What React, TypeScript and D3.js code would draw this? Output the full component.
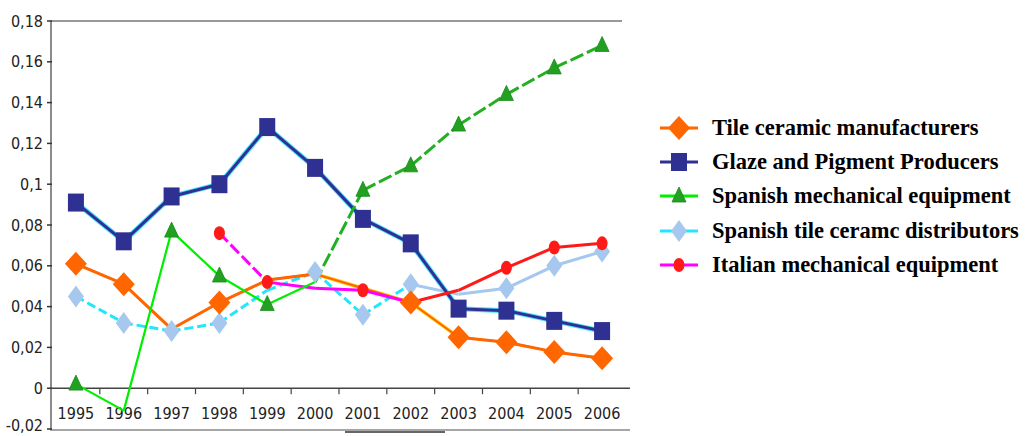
import React from "react";
import * as d3 from "d3";

const years = ["1995","1996","1997","1998","1999","2000","2001","2002","2003","2004","2005","2006"];
const yTickValues = [-0.02, 0, 0.02, 0.04, 0.06, 0.08, 0.1, 0.12, 0.14, 0.16, 0.18];
const yTickLabels = ["-0,02","0","0,02","0,04","0,06","0,08","0,1","0,12","0,14","0,16","0,18"];

const tileManufacturers = [0.061, 0.051, 0.029, 0.042, 0.053, 0.056, 0.049, 0.042, 0.025, 0.0225, 0.0178, 0.0147];
const tileMarkers = [1,1,0,1,0,0,0,1,1,1,1,1];
const glazeProducers = [0.091, 0.072, 0.094, 0.100, 0.128, 0.108, 0.083, 0.071, 0.039, 0.038, 0.033, 0.028];
const glazeMarkers = [1,1,1,1,1,1,1,1,1,1,1,1];
const spanishMech = [0.002, -0.011, 0.077, 0.055, 0.041, 0.052, 0.097, 0.109, 0.129, 0.144, 0.157, 0.168];
const spanishMechMarkers = [1,0,1,1,1,0,1,1,1,1,1,1];
const spanishDistributors = [0.045, 0.032, 0.028, 0.032, 0.048, 0.057, 0.036, 0.051, 0.046, 0.049, 0.060, 0.067];
const spanishDistMarkers = [1,1,1,1,0,1,1,1,0,1,1,1];
const italianMech: (number | null)[] = [null, null, null, 0.076, 0.052, 0.049, 0.048, 0.042, 0.048, 0.059, 0.069, 0.071];
const italianMarkers = [0,0,0,1,1,0,1,0,0,1,1,1];

const seriesNames = [
  "Tile ceramic manufacturers",
  "Glaze and Pigment Producers",
  "Spanish mechanical equipment",
  "Spanish tile ceramc distributors",
  "Italian mechanical equipment",
];

const W = 1025, H = 436;
const x = d3.scalePoint<string>().domain(years).range([52, 626]).padding(0.5);
const y = d3.scaleLinear().domain([-0.02, 0.18]).range([429, 21]);

const axisFont = "'Liberation Sans Narrow', 'Arial Narrow', 'DejaVu Sans Condensed', Arial, sans-serif";

type Shape = "diamond" | "square" | "triangle" | "thinDiamond" | "circle";

function Marker({ shape, cx, cy, fill }: { shape: Shape; cx: number; cy: number; fill: string }) {
  if (shape === "diamond") {
    const w = 11, h = 12;
    return <path d={`M${cx},${cy - h}L${cx + w},${cy}L${cx},${cy + h}L${cx - w},${cy}Z`} fill={fill} />;
  }
  if (shape === "thinDiamond") {
    const w = 8, h = 11;
    return <path d={`M${cx},${cy - h}L${cx + w},${cy}L${cx},${cy + h}L${cx - w},${cy}Z`} fill={fill} />;
  }
  if (shape === "square") {
    return <rect x={cx - 8} y={cy - 9} width={16} height={18} fill={fill} />;
  }
  if (shape === "triangle") {
    return <path d={`M${cx},${cy - 9}L${cx + 7},${cy + 6}L${cx - 7},${cy + 6}Z`} fill={fill} stroke="#1a8a1a" strokeWidth={0.8} />;
  }
  return <ellipse cx={cx} cy={cy} rx={5.5} ry={7} fill={fill} />;
}

type SegStyle = { color: string; width: number; dash?: string };

function SeriesLines({ values, segStyle }: { values: (number | null)[]; segStyle: (i: number) => SegStyle }) {
  const segs: JSX.Element[] = [];
  for (let i = 0; i < values.length - 1; i++) {
    const a = values[i], b = values[i + 1];
    if (a == null || b == null) continue;
    const s = segStyle(i);
    const line = d3.line<[number, number]>()([[x(years[i])!, y(a)], [x(years[i + 1])!, y(b)]]) || "";
    segs.push(<path key={i} d={line} stroke={s.color} strokeWidth={s.width} strokeDasharray={s.dash} fill="none" />);
  }
  return <g>{segs}</g>;
}

function SeriesMarkers({ values, mask, shape, fill }: { values: (number | null)[]; mask: number[]; shape: Shape; fill: string }) {
  return (
    <g>
      {values.map((v, i) =>
        v == null || !mask[i] ? null : <Marker key={i} shape={shape} cx={x(years[i])!} cy={y(v)} fill={fill} />
      )}
    </g>
  );
}

export default function App() {
  const legendRows = [
    { name: seriesNames[0], line: "#ff6600", shape: "diamond" as Shape, fill: "#ff6600" },
    { name: seriesNames[1], line: "#2e3192", shape: "square" as Shape, fill: "#2e3192" },
    { name: seriesNames[2], line: "#00ee00", shape: "triangle" as Shape, fill: "#22a022" },
    { name: seriesNames[3], line: "#22e5ff", shape: "thinDiamond" as Shape, fill: "#a6c8ee" },
    { name: seriesNames[4], line: "#ff00ff", shape: "circle" as Shape, fill: "#ff1a1a" },
  ];
  const legendY = [128, 162, 196, 231, 265];

  return (
    <svg width={W} height={H} style={{ position: "absolute", left: 0, top: 0, background: "#fff" }}>
      {/* frame */}
      <line x1={51} y1={21} x2={622} y2={21} stroke="#777" strokeWidth={1.5} />
      <line x1={51} y1={21} x2={51} y2={430} stroke="#666" strokeWidth={1.5} />
      <line x1={50} y1={430} x2={630} y2={430} stroke="#888" strokeWidth={1.5} />
      <line x1={345} y1={432} x2={445} y2={432} stroke="#333" strokeWidth={1.5} />
      {/* y ticks */}
      {yTickValues.map((v, i) => (
        <g key={i}>
          <line x1={47} x2={52} y1={y(v)} y2={y(v)} stroke="#333" strokeWidth={1.5} />
          <text x={43} y={Math.min(y(v), 425)} dy="0.35em" textAnchor="end" fontFamily={axisFont} fontSize={16} fill="#222">
            {yTickLabels[i]}
          </text>
        </g>
      ))}
      {/* x axis at zero */}
      <line x1={51} y1={y(0)} x2={630} y2={y(0)} stroke="#444" strokeWidth={1.5} />
      {years.map((yr, i) => (
        <g key={yr}>
          {i > 0 && (
            <line x1={x(yr)! - x.step() / 2} x2={x(yr)! - x.step() / 2} y1={y(0)} y2={y(0) + 6} stroke="#444" strokeWidth={1.2} />
          )}
          <text x={x(yr)!} y={413} dy="0.35em" textAnchor="middle" fontFamily={axisFont} fontSize={16} fill="#222">
            {yr}
          </text>
        </g>
      ))}

      {/* lines */}
      <SeriesLines values={spanishDistributors} segStyle={(i) => (i < 7 ? { color: "#22e5ff", width: 3, dash: "9,4" } : { color: "#a6c8ee", width: 3 })} />
      <SeriesLines values={glazeProducers} segStyle={() => ({ color: "#45e0ff", width: 5 })} />
      <SeriesLines values={glazeProducers} segStyle={() => ({ color: "#2e3192", width: 3 })} />
      <SeriesLines values={tileManufacturers} segStyle={(i) => (i >= 5 && i <= 7 ? { color: "#ffcc00", width: 3.5 } : { color: "#ff6600", width: 3 })} />
      <SeriesLines values={tileManufacturers} segStyle={() => ({ color: "#ff6600", width: 2 })} />
      <SeriesLines values={italianMech} segStyle={(i) => (i < 7 ? { color: "#ff00ff", width: 3, dash: i === 3 ? "12,4" : undefined } : { color: "#ff1a1a", width: 3 })} />
      <SeriesLines values={spanishMech} segStyle={(i) => (i < 5 ? { color: "#00ee00", width: 2.2 } : { color: "#22b022", width: 3, dash: "14,4" })} />

      {/* markers */}
      <SeriesMarkers values={spanishDistributors} mask={spanishDistMarkers} shape="thinDiamond" fill="#a6c8ee" />
      <SeriesMarkers values={tileManufacturers} mask={tileMarkers} shape="diamond" fill="#ff6600" />
      <SeriesMarkers values={italianMech} mask={italianMarkers} shape="circle" fill="#ff1a1a" />
      <SeriesMarkers values={glazeProducers} mask={glazeMarkers} shape="square" fill="#2e3192" />
      <SeriesMarkers values={spanishMech} mask={spanishMechMarkers} shape="triangle" fill="#22a022" />

      {/* legend */}
      {legendRows.map((r, i) => (
        <g key={r.name}>
          <line x1={660} x2={698} y1={legendY[i]} y2={legendY[i]} stroke={r.line} strokeWidth={3} />
          <Marker shape={r.shape} cx={679} cy={legendY[i]} fill={r.fill} />
          <text x={712} y={legendY[i]} dy="0.33em" fontFamily="'Liberation Serif', 'Times New Roman', serif" fontWeight="bold" fontSize={22.5} fill="#000">
            {r.name}
          </text>
        </g>
      ))}
    </svg>
  );
}
